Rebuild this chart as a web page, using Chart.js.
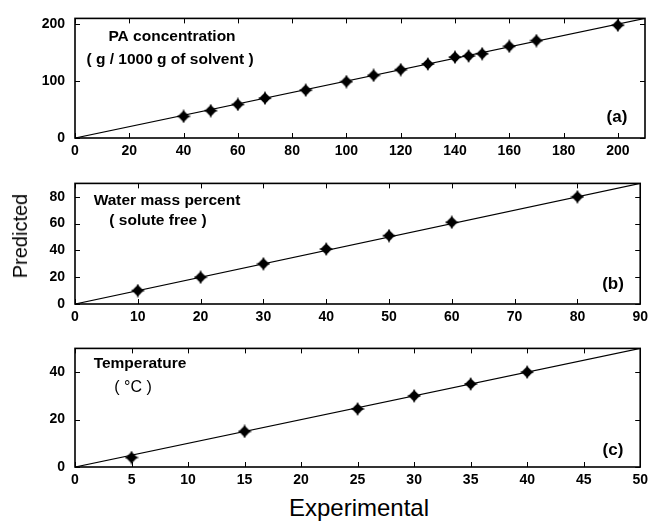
<!DOCTYPE html>
<html>
<head>
<meta charset="utf-8">
<script src="https://cdn.jsdelivr.net/npm/chart.js@4.4.0/dist/chart.umd.min.js"></script>
<style>
  html, body { margin: 0; padding: 0; background: #fff; overflow: hidden; }
  #figure { position: relative; width: 653px; height: 521px; }
  #figure canvas { position: absolute; left: 0; }
  .axis-title { position: absolute; font-family: 'Liberation Sans', Arial, sans-serif; color: #000; line-height: 1; white-space: nowrap; }
  #ytitle { left: 20px; top: 236px; font-size: 20px; transform: translate(-50%, -50%) rotate(-90deg); }
  #xtitle { left: 359px; top: 508px; font-size: 24px; transform: translate(-50%, -50%); }
</style>
</head>
<body>
<div id="figure">
  <canvas id="panelA" width="653" height="165" style="top:0px"></canvas>
  <canvas id="panelB" width="653" height="165" style="top:165px"></canvas>
  <canvas id="panelC" width="653" height="160" style="top:330px"></canvas>
  <div class="axis-title" id="ytitle">Predicted</div>
  <div class="axis-title" id="xtitle">Experimental</div>
</div>
<script>
// (a) PA concentration, g / 1000 g of solvent
const paExperimental = [40, 50, 60, 70, 85, 100, 110, 120, 130, 140, 145, 150, 160, 170, 200];
const paPredicted    = [38, 48, 59, 70, 84, 99, 110, 120, 130, 142, 144, 148, 161, 171, 198];
const paRange = [0, 210];
const paXTicks = [0, 20, 40, 60, 80, 100, 120, 140, 160, 180, 200];
const paYTicks = [0, 100, 200];

// (b) water mass percent, solute free
const waterExperimental = [10, 20, 30, 40, 50, 60, 80];
const waterPredicted    = [10, 20, 30, 41, 51, 61, 80];
const waterRange = [0, 90];
const waterXTicks = [0, 10, 20, 30, 40, 50, 60, 70, 80, 90];
const waterYTicks = [0, 20, 40, 60, 80];

// (c) temperature, °C
const tempExperimental = [5, 15, 25, 30, 35, 40];
const tempPredicted    = [4, 15, 24.5, 30, 35, 40];
const tempRange = [0, 50];
const tempXTicks = [0, 5, 10, 15, 20, 25, 30, 35, 40, 45, 50];
const tempYTicks = [0, 20, 40];

const tickFont = { family: "'Liberation Sans', Arial, sans-serif", size: 14, weight: 'bold' };
const noteFont = "bold 15.5px 'Liberation Sans', Arial, sans-serif";
const tagFont = "bold 17px 'Liberation Sans', Arial, sans-serif";

// four-pointed star used for every data point
function starMarker(size) {
    const c = document.createElement('canvas');
    c.width = c.height = size;
    const g = c.getContext('2d');
    const m = size / 2;
    g.fillStyle = '#000';
    g.beginPath();
    for (let i = 0; i < 8; i++) {
        const r = i % 2 ? size * 0.24 : size / 2;
        const a = -Math.PI / 2 + i * Math.PI / 4;
        g.lineTo(m + r * Math.cos(a), m + r * Math.sin(a));
    }
    g.closePath();
    g.fill();
    g.beginPath();
    g.arc(m, m, size * 0.3, 0, Math.PI * 2);
    g.fill();
    return c;
}
const star = starMarker(14);

// box frame with inward ticks on all four sides
const framePlugin = {
    id: 'frame',
    afterDraw(chart) {
        const { ctx, chartArea: a, scales } = chart;
        ctx.save();
        ctx.strokeStyle = '#000';
        ctx.lineWidth = 1;
        ctx.beginPath();
        scales.x.ticks.forEach(t => {
            const px = Math.round(scales.x.getPixelForValue(t.value)) + 0.5;
            ctx.moveTo(px, a.bottom); ctx.lineTo(px, a.bottom - 5);
            ctx.moveTo(px, a.top); ctx.lineTo(px, a.top + 5);
        });
        scales.y.ticks.forEach(t => {
            const py = Math.round(scales.y.getPixelForValue(t.value)) + 0.5;
            ctx.moveTo(a.left, py); ctx.lineTo(a.left + 5, py);
            ctx.moveTo(a.right, py); ctx.lineTo(a.right - 5, py);
        });
        ctx.stroke();
        ctx.lineWidth = 1.6;
        ctx.strokeRect(a.left, a.top, a.right - a.left, a.bottom - a.top);
        ctx.restore();
    }
};

// text notes placed relative to the plot area
const notesPlugin = {
    id: 'notes',
    afterDraw(chart, args, opts) {
        const { ctx, chartArea: a } = chart;
        ctx.save();
        ctx.fillStyle = '#000';
        ctx.textAlign = 'center';
        ctx.textBaseline = 'middle';
        (opts.items || []).forEach(n => {
            ctx.font = n.font || noteFont;
            ctx.fillText(n.text, a.left + n.dx, a.top + n.dy);
        });
        ctx.restore();
    }
};

const fixedTicks = values => scale => {
    scale.ticks = values.map(v => ({ value: v }));
};

function makePanel(id, xs, ys, range, xTicks, yTicks, layout, notes) {
    const points = xs.map((x, i) => ({ x: x, y: ys[i] }));
    return new Chart(document.getElementById(id), {
        type: 'scatter',
        data: {
            datasets: [{
                type: 'line',
                data: range.map(v => ({ x: v, y: v })),
                borderColor: '#000',
                borderWidth: 1.2,
                pointRadius: 0,
                fill: false
            }, {
                data: points,
                pointStyle: star,
                backgroundColor: '#000',
                borderColor: '#000'
            }]
        },
        options: {
            responsive: false,
            animation: false,
            layout: { padding: { top: layout.top, right: layout.right, left: 0, bottom: 0 } },
            scales: {
                x: {
                    type: 'linear',
                    min: range[0], max: range[1],
                    afterBuildTicks: fixedTicks(xTicks),
                    ticks: { padding: 5, color: '#000', font: tickFont, maxRotation: 0, autoSkip: false },
                    grid: { display: false, drawTicks: false },
                    border: { display: false },
                    afterFit: s => { s.height = layout.xHeight; }
                },
                y: {
                    type: 'linear',
                    min: range[0], max: range[1],
                    afterBuildTicks: fixedTicks(yTicks),
                    ticks: { padding: 10, color: '#000', font: tickFont },
                    grid: { display: false, drawTicks: false },
                    border: { display: false },
                    afterFit: s => { s.width = 75; }
                }
            },
            plugins: {
                legend: { display: false },
                tooltip: { enabled: false },
                notes: { items: notes }
            }
        },
        plugins: [framePlugin, notesPlugin]
    });
}

makePanel('panelA', paExperimental, paPredicted, paRange, paXTicks, paYTicks,
    { top: 14, right: 8, xHeight: 27 },
    [
        { text: 'PA concentration', dx: 97, dy: 18 },
        { text: '( g / 1000 g of solvent )', dx: 95, dy: 41 },
        { text: '(a)', dx: 542, dy: 99, font: tagFont }
    ]);

makePanel('panelB', waterExperimental, waterPredicted, waterRange, waterXTicks, waterYTicks,
    { top: 15, right: 8, xHeight: 26 },
    [
        { text: 'Water mass percent', dx: 92, dy: 17 },
        { text: '( solute free )', dx: 83, dy: 37 },
        { text: '(b)', dx: 538, dy: 101, font: tagFont }
    ]);

makePanel('panelC', tempExperimental, tempPredicted, tempRange, tempXTicks, tempYTicks,
    { top: 14, right: 8, xHeight: 23 },
    [
        { text: 'Temperature', dx: 65, dy: 15 },
        { text: '( °C )', dx: 58, dy: 39, font: "16px 'Liberation Sans', Arial, sans-serif" },
        { text: '(c)', dx: 538, dy: 102, font: tagFont }
    ]);
</script>
</body>
</html>
